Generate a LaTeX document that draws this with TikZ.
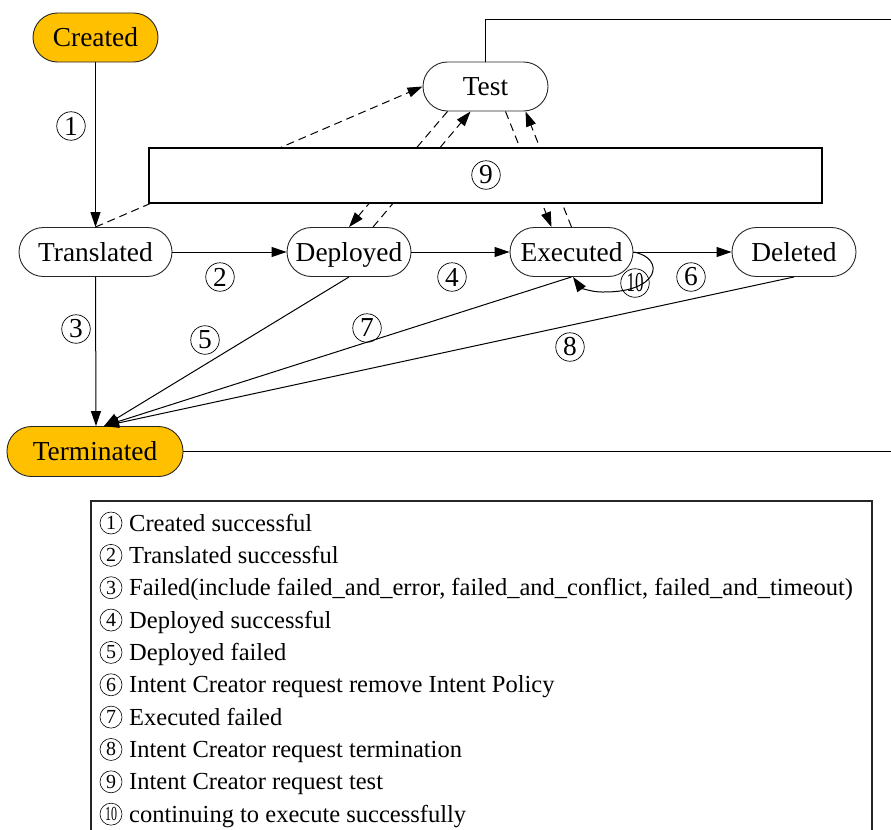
\documentclass[tikz,border=0pt]{standalone}
\usepackage{fontspec}
\usepackage{graphicx}
\setmainfont{Liberation Serif}
\usetikzlibrary{arrows.meta,calc}
\definecolor{stateorange}{RGB}{255,192,0}
\begin{document}
\begin{tikzpicture}[x=1bp,y=-1bp,
  state/.style={draw=black!85, line width=0.9bp, rounded corners=24.5bp,
    minimum height=49bp, inner sep=0pt, text height=25bp, text depth=7bp,
    font=\fontsize{27.5}{30}\selectfont},
  endstate/.style={state, fill=stateorange},
  num/.style={circle, draw, line width=0.7bp, inner sep=0pt, minimum size=28.5bp,
    font=\fontsize{27.5}{30}\selectfont},
  keynum/.style={circle, draw, line width=0.6bp, inner sep=0pt, minimum size=22bp,
    font=\fontsize{20}{22}\selectfont},
  keytext/.style={anchor=base west, inner sep=0pt, font=\fontsize{24.6}{28}\selectfont},
  arr/.style={-{Triangle[length=15bp,width=10bp]}, line width=1bp},
  dsh/.style={arr, dash pattern=on 8bp off 5bp},
  plain/.style={line width=1bp},
  groupbox/.style={draw, fill=white, line width=1.2bp},
]
\useasboundingbox (0,0) rectangle (891,830);

% states
\node[endstate, minimum width=125bp] (cr)   at (95.5,37.5)  {Created};
\node[state,    minimum width=153bp] (tr)   at (95.5,252)   {Translated};
\node[state,    minimum width=124bp] (dep)  at (349,252)    {Deployed};
\node[state,    minimum width=123bp] (ex)   at (571.5,252)  {Executed};
\node[state,    minimum width=124bp] (del)  at (794,252)    {Deleted};
\node[state,    minimum width=125bp] (test) at (485.5,86.5) {Test};
\node[endstate, minimum width=176bp, minimum height=50bp] (term) at (95,451.5) {Terminated};

% lines leaving to the right
\coordinate (outA) at (891,19);
\coordinate (outB) at (891,451.5);
\draw[plain] (test.north) |- (outA);
\draw[plain] (term.east) -- (outB);

% test requests (dashed)
\draw[dsh] (tr.north) -- (test.west);
\draw[dsh] ($(test.south)+(-38,0)$) -- (dep.north);
\draw[dsh] ($(dep.north)+(24,0)$) -- ($(test.south)+(-15,0)$);
\draw[dsh] ($(test.south)+(20,0)$) -- ($(ex.north)+(-20,0)$);
\draw[dsh] (ex.north) -- ($(test.south)+(40,0)$);

% group box with label 9
\node[groupbox, minimum width=673bp, minimum height=55bp, inner sep=0pt] (grp) at (485.5,175.5) {};
\node[num] (n9) at (486,175) {9};

% transitions
\draw[arr] (cr.south) -- (tr.north);
\draw[arr] (tr.east) -- (dep.west);
\draw[arr] (dep.east) -- (ex.west);
\draw[arr] (ex.east) -- (del.west);
\draw[arr] (tr.south) -- ($(term.north)+(1,0)$);
\draw[arr] (dep.south) -- ($(term.north)+(9,0)$);
\draw[arr] (ex.south) -- ($(term.north)+(9,0)$);
\draw[arr] (del.south) -- ($(term.north)+(9,0)$);
\draw[arr] (ex.east) .. controls (666,258) and (660,293) .. (602,292)
  .. controls (590,292) and (580,287) .. ($(ex.south)+(1.5,0)$);

% transition labels
\node[num] (n1)  at (71,126)  {1};
\node[num] (n2)  at (220,277) {2};
\node[num] (n3)  at (76,329)  {3};
\node[num] (n4)  at (452,277) {4};
\node[num] (n5)  at (205,340) {5};
\node[num] (n6)  at (691,277) {6};
\node[num] (n7)  at (367,328) {7};
\node[num] (n8)  at (570,347) {8};
\node[num] (n10) at (635,283) {\scalebox{0.62}[1]{10}};

% key
\coordinate (kA) at (91,830);
\coordinate (kB) at (91,501);
\coordinate (kC) at (872,501);
\coordinate (kD) at (872,830);
\draw[line width=1.2bp, draw=black!85] (kA) -- (kB) -- (kC) -- (kD);

\foreach \lbl/\txt [count=\i from 0] in {
  1/{Created successful},
  2/{Translated successful},
  3/{Failed(include failed\_and\_error, failed\_and\_conflict, failed\_and\_timeout)},
  4/{Deployed successful},
  5/{Deployed failed},
  6/{Intent Creator request remove Intent Policy},
  7/{Executed failed},
  8/{Intent Creator request termination},
  9/{Intent Creator request test},
  {\scalebox{0.6}[1]{10}}/{continuing to execute successfully}} {
  \node[keynum] (k\i) at (111,523+32.35*\i) {\lbl};
  \node[keytext] (t\i) at ($(k\i.center)+(18,8)$) {\txt};
}
\end{tikzpicture}
\end{document}
